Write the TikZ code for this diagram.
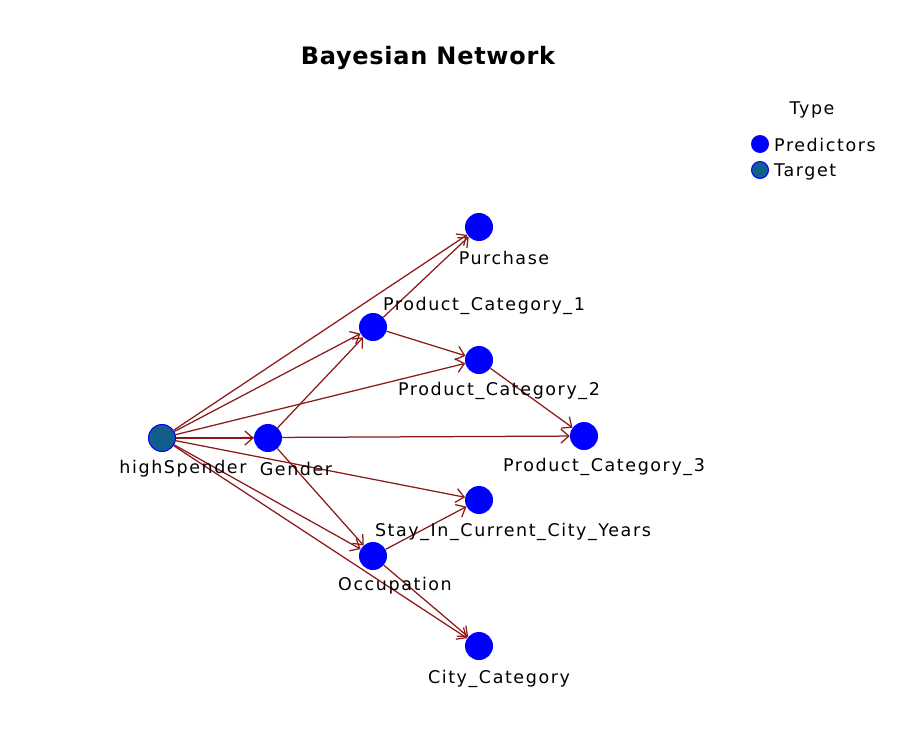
\documentclass[tikz,border=0pt]{standalone}
\usepackage{fontspec}
\setmainfont{DejaVu Sans}
\newfontfamily\lblfont[LetterSpace=9]{DejaVu Sans}
\newfontfamily\titlefont[LetterSpace=3]{DejaVu Sans}
\usetikzlibrary{arrows.meta}
\definecolor{edgecol}{HTML}{8B1A1A}
\definecolor{predcol}{HTML}{0000FF}
\definecolor{targcol}{HTML}{125E8A}
\pgfdeclarelayer{paper}
\pgfdeclarelayer{background}
\pgfsetlayers{paper,background,main}
\begin{document}
\begin{tikzpicture}[x=1pt,y=-1pt,
  vnode/.style={circle,fill=predcol,minimum size=28pt,inner sep=0pt},
  tnode/.style={vnode,fill=targcol,draw=predcol,line width=1pt,minimum size=27pt},
  legp/.style={circle,fill=predcol,minimum size=18pt,inner sep=0pt},
  legt/.style={legp,fill=targcol,draw=predcol,line width=1pt,minimum size=17pt},
  lbl/.style={font=\lblfont\fontsize{17.5}{20}\selectfont,inner sep=0pt,anchor=center},
  titlef/.style={font=\titlefont\bfseries\fontsize{24}{26}\selectfont,inner sep=0pt},
  arc/.style={draw=edgecol,line width=1.25pt,-{Straight Barb[length=8pt,width=14pt,line width=1.25pt]}}]
\begin{pgfonlayer}{paper}
\useasboundingbox[fill=white] (0,0) rectangle (908,736);
\end{pgfonlayer}

\node[titlef] (title) at (428,58) {Bayesian Network};

% legend
\node[lbl] (ltype) at (812,110) {Type};
\node[legp] (lp) at (760,144) {};
\node[legt] (lt) at (760,170) {};
\node[lbl,anchor=west] (lptxt) at (774,145) {Predictors};
\node[lbl,anchor=west] (lttxt) at (774,172) {Target};

% nodes
\node[tnode] (hs) at (162,438) {};
\node[vnode] (gen) at (268,438) {};
\node[vnode] (pur) at (479,227) {};
\node[vnode] (pc1) at (373,327) {};
\node[vnode] (pc2) at (479,360) {};
\node[vnode] (pc3) at (584,436) {};
\node[vnode] (stay) at (479,500) {};
\node[vnode] (occ) at (373,556) {};
\node[vnode] (city) at (479,646) {};

% labels
\node[lbl] (lhs) at (183,469) {highSpender};
\node[lbl] (lgen) at (296,469) {Gender};
\node[lbl] (lpur) at (504,258) {Purchase};
\node[lbl] (lpc1) at (484,306) {Product\_Category\_1};
\node[lbl] (lpc2) at (499,391) {Product\_Category\_2};
\node[lbl] (lpc3) at (604,467) {Product\_Category\_3};
\node[lbl] (lstay) at (513,532) {Stay\_In\_Current\_City\_Years};
\node[lbl] (locc) at (395,586) {Occupation};
\node[lbl] (lcity) at (499,679) {City\_Category};

\begin{pgfonlayer}{background}
\draw[arc] (hs) -- (pur);
\draw[arc] (hs) -- (pc1);
\draw[arc] (hs) -- (pc2);
\draw[arc] (hs) -- (gen);
\draw[arc] (hs) -- (pc3);
\draw[arc] (hs) -- (stay);
\draw[arc] (hs) -- (occ);
\draw[arc] (hs) -- (city);
\draw[arc] (gen) -- (pc1);
\draw[arc] (gen) -- (occ);
\draw[arc] (pc1) -- (pur);
\draw[arc] (pc1) -- (pc2);
\draw[arc] (pc2) -- (pc3);
\draw[arc] (occ) -- (stay);
\draw[arc] (occ) -- (city);
\end{pgfonlayer}
\end{tikzpicture}
\end{document}
